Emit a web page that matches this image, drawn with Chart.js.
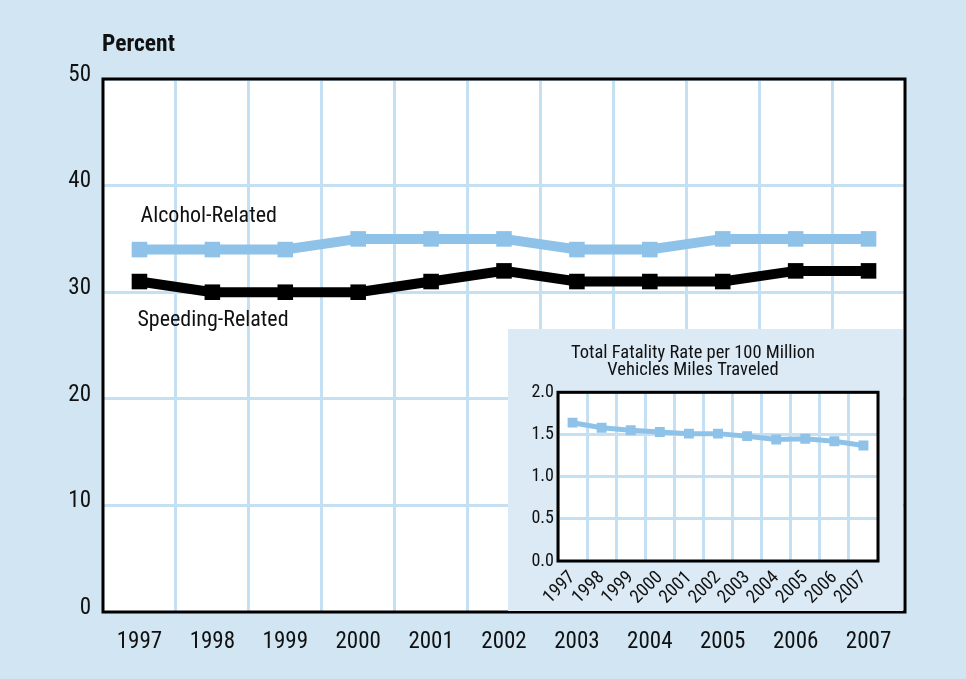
<!DOCTYPE html>
<html>
<head>
<meta charset="utf-8">
<script src="https://cdn.jsdelivr.net/npm/chart.js@4.4.1/dist/chart.umd.min.js"></script>
<style>
  html, body { margin: 0; padding: 0; background: #d1e5f3; }
  #wrap { position: relative; width: 966px; height: 679px; }
  #main { position: absolute; left: 0; top: 0; }
  #percent { position: absolute; left: 102px; top: 29px; font: bold 23.5px 'Liberation Sans Narrow', 'Roboto Condensed', sans-serif; color: #111; }
  #inset { position: absolute; left: 508px; top: 329px; width: 395px; height: 282px; background: #dbeaf5; }
</style>
</head>
<body>
<div id="wrap">
  <canvas id="main" width="966" height="679"></canvas>
  <div id="percent">Percent</div>
  <div id="inset"><canvas id="rate" width="395" height="282"></canvas></div>
</div>
<script>
const years = ['1997', '1998', '1999', '2000', '2001', '2002', '2003', '2004', '2005', '2006', '2007'];
const alcoholRelated = [34, 34, 34, 35, 35, 35, 34, 34, 35, 35, 35];
const speedingRelated = [31, 30, 30, 30, 31, 32, 31, 31, 31, 32, 32];
const fatalityRate = [1.64, 1.58, 1.55, 1.53, 1.51, 1.51, 1.48, 1.44, 1.45, 1.42, 1.37];

const FONT = "'Liberation Sans Narrow', 'Roboto Condensed', sans-serif";
const BLUE = '#8ec2e8';
const GRID = '#c6e0f3';

// white plot area with black frame
const framePlugin = {
  id: 'frame',
  beforeDraw(chart) {
    const a = chart.chartArea, c = chart.ctx;
    c.save();
    c.fillStyle = '#fff';
    c.fillRect(a.left, a.top, a.right - a.left, a.bottom - a.top);
    c.restore();
  },
  afterDatasetsDraw(chart) {
    const a = chart.chartArea, c = chart.ctx;
    c.save();
    c.strokeStyle = '#000';
    c.lineWidth = 3;
    c.strokeRect(a.left, a.top, a.right - a.left, a.bottom - a.top);
    c.restore();
  }
};

// series names written next to the first points
const seriesLabels = {
  id: 'seriesLabels',
  afterDatasetsDraw(chart) {
    const c = chart.ctx, x = chart.scales.x, y = chart.scales.y;
    c.save();
    c.font = '22px ' + FONT;
    c.fillStyle = '#111';
    c.textBaseline = 'middle';
    c.fillText('Alcohol-Related', x.getPixelForValue(0) + 1, y.getPixelForValue(alcoholRelated[0]) - 33);
    c.fillText('Speeding-Related', x.getPixelForValue(0) - 2, y.getPixelForValue(speedingRelated[0]) + 39);
    c.restore();
  }
};

new Chart(document.getElementById('main'), {
  type: 'line',
  data: {
    labels: years,
    datasets: [
      { data: alcoholRelated, borderColor: BLUE, backgroundColor: BLUE, borderWidth: 10,
        pointStyle: 'rect', pointRadius: 11, pointBorderWidth: 0, tension: 0 },
      { data: speedingRelated, borderColor: '#000', backgroundColor: '#000', borderWidth: 10,
        pointStyle: 'rect', pointRadius: 11, pointBorderWidth: 0, tension: 0 }
    ]
  },
  options: {
    responsive: false,
    animation: false,
    layout: { padding: { left: 0, top: 79, right: 61, bottom: 0 } },
    plugins: { legend: { display: false }, tooltip: { enabled: false } },
    scales: {
      x: {
        offset: true,
        grid: { offset: true, color: GRID, lineWidth: 3, drawTicks: false },
        border: { display: false },
        ticks: { color: '#111', font: { family: FONT, size: 23 }, padding: 16, maxRotation: 0 },
        afterFit(s) { s.height = 67; }
      },
      y: {
        min: 0, max: 50,
        grid: { color: GRID, lineWidth: 3, drawTicks: false },
        border: { display: false },
        ticks: { stepSize: 10, color: '#111', font: { family: FONT, size: 23 }, padding: 12, labelOffset: -4 },
        afterFit(s) { s.width = 103; }
      }
    }
  },
  plugins: [framePlugin, seriesLabels]
});

new Chart(document.getElementById('rate'), {
  type: 'line',
  data: {
    labels: years,
    datasets: [
      { data: fatalityRate, borderColor: BLUE, backgroundColor: BLUE, borderWidth: 5,
        pointStyle: 'rect', pointRadius: 7, pointBorderWidth: 0, tension: 0 }
    ]
  },
  options: {
    responsive: false,
    animation: false,
    layout: { padding: { left: 0, top: 0, right: 25, bottom: 0 } },
    plugins: {
      legend: { display: false },
      tooltip: { enabled: false },
      title: {
        display: true,
        text: ['Total Fatality Rate per 100 Million', 'Vehicles Miles Traveled'],
        color: '#111',
        font: { family: FONT, size: 18.5, weight: 'normal', lineHeight: 0.9 },
        padding: { top: 16, bottom: 14 }
      }
    },
    scales: {
      x: {
        offset: true,
        grid: { offset: true, color: GRID, lineWidth: 3, drawTicks: false },
        border: { display: false },
        ticks: { color: '#111', font: { family: FONT, size: 18.5 }, padding: 6, autoSkip: false,
          minRotation: 45, maxRotation: 45 },
        afterFit(s) { s.height = 50; }
      },
      y: {
        min: 0, max: 2,
        grid: { color: GRID, lineWidth: 3, drawTicks: false },
        border: { display: false },
        ticks: { stepSize: 0.5, color: '#111', font: { family: FONT, size: 18 }, padding: 4,
          callback: v => v.toFixed(1) },
        afterFit(s) { s.width = 50; }
      }
    }
  },
  plugins: [framePlugin]
});
</script>
</body>
</html>
